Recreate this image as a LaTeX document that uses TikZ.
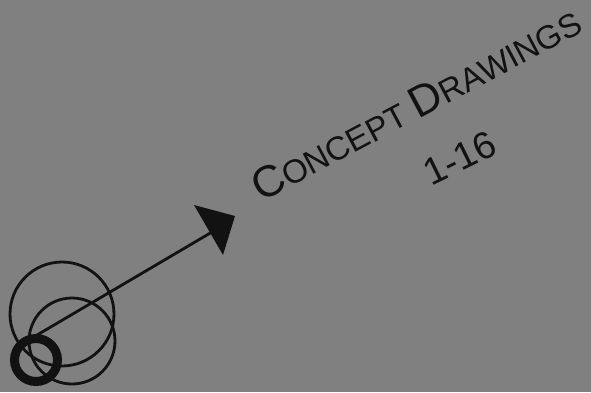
\documentclass[tikz,border=0pt]{standalone}
\usepackage{fontspec}
\setmainfont{Liberation Sans}
\definecolor{bg}{RGB}{128,128,128}
\definecolor{ink}{RGB}{18,18,18}
\begin{document}
\begin{tikzpicture}[x=1pt,y=-1pt,
  inkline/.style={draw=ink,line width=2.8pt},
  hand/.style={text=ink,inner sep=0pt}]
\useasboundingbox (0,0) rectangle (591,392);
\fill[bg] (0,0) rectangle (591,392);
% circles
\node[inkline,circle,minimum size=104pt,inner sep=0pt] (big) at (62,314) {};
\node[inkline,circle,minimum size=86pt,inner sep=0pt] (mid) at (72,341) {};
\node[draw=ink,line width=9pt,circle,minimum size=43pt,inner sep=0pt] (ring) at (36,360) {};
% arrow
\coordinate (start) at (32,338);
\coordinate (head) at (212,232);
\draw[inkline] (start) -- (head);
\fill[ink] (194,205) -- (235,216) -- (223,255) -- cycle;
% text
\node[hand,anchor=base west,rotate=28] (title) at (261,203)
  {\fontsize{44}{44}\selectfont C\fontsize{33}{33}\selectfont ONCEPT\kern 9pt\fontsize{44}{44}\selectfont D\fontsize{33}{33}\selectfont RAWINGS};
\node[hand,rotate=26] (num) at (460,158) {\fontsize{38}{38}\selectfont 1-16};
\end{tikzpicture}
\end{document}
